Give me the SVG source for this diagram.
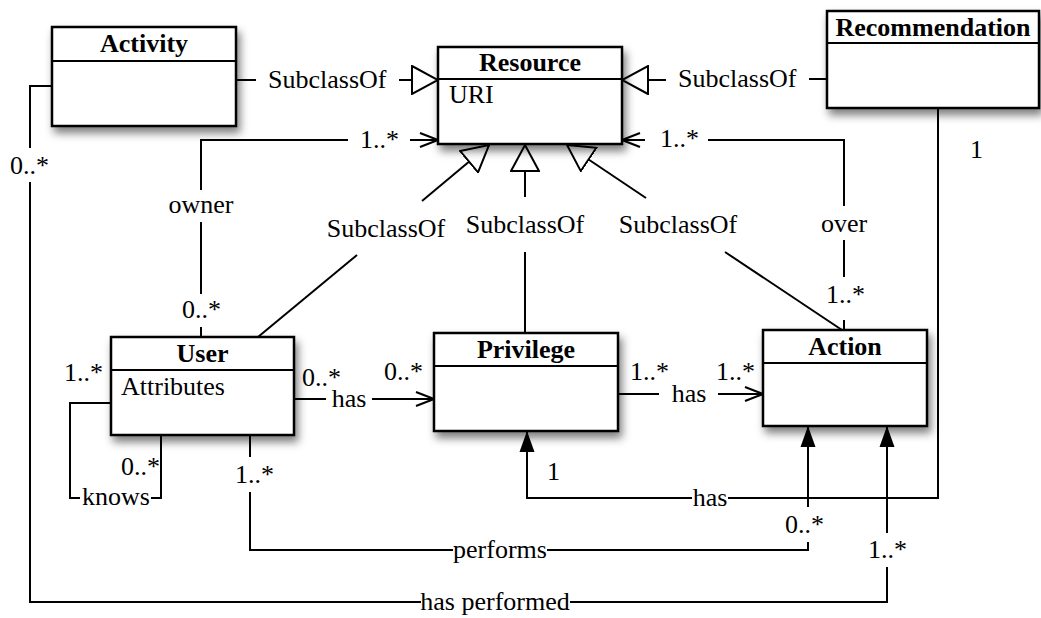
<svg xmlns="http://www.w3.org/2000/svg" width="1041" height="618" viewBox="0 0 1041 618">
  <style>
    .box { fill: #fff; stroke: #000; stroke-width: 2.5; filter: url(#shadow); }
    .div { stroke: #000; stroke-width: 2; }
    .title { font-family: "Liberation Serif", "Times New Roman", serif; font-size: 26px; font-weight: bold; text-anchor: middle; fill: #000; }
    .attr { font-family: "Liberation Serif", "Times New Roman", serif; font-size: 26px; fill: #000; }
    .lbl { font-family: "Liberation Serif", "Times New Roman", serif; font-size: 26px; fill: #000; }
    .mid { text-anchor: middle; }
    .ln { fill: none; stroke: #000; stroke-width: 2; }
  </style>
  <defs>
    <filter id="shadow" x="-20%" y="-20%" width="150%" height="160%">
      <feDropShadow dx="3" dy="6" stdDeviation="4" flood-color="#000" flood-opacity="0.5"/>
    </filter>
    <!-- hollow generalisation triangle -->
    <marker id="hollow" viewBox="0 0 28 30" refX="27" refY="15" markerWidth="28" markerHeight="30" markerUnits="userSpaceOnUse" orient="auto">
      <path d="M1,1 L27,15 L1,29 Z" fill="#fff" stroke="#000" stroke-width="2"/>
    </marker>
    <!-- open navigation arrow -->
    <marker id="open" viewBox="0 0 20 16" refX="19" refY="8" markerWidth="20" markerHeight="16" markerUnits="userSpaceOnUse" orient="auto">
      <path d="M1,1 L19,8 L1,15" fill="none" stroke="#000" stroke-width="2"/>
    </marker>
    <!-- filled arrow -->
    <marker id="filled" viewBox="0 0 21 16" refX="21" refY="8" markerWidth="21" markerHeight="16" markerUnits="userSpaceOnUse" orient="auto">
      <path d="M0,0.5 L21,8 L0,15.5 Z" fill="#000"/>
    </marker>
  </defs>

  <rect width="1041" height="618" fill="#fff"/>

  <!-- connectors -->
  <g id="connectors">
    <!-- Activity subclass of Resource -->
    <path class="ln" d="M236,80 H256"/>
    <path class="ln" d="M399,80 H438" marker-end="url(#hollow)"/>
    <text class="lbl" x="268" y="88">SubclassOf</text>

    <!-- Recommendation subclass of Resource -->
    <path class="ln" d="M827,79 H809"/>
    <path class="ln" d="M666,80 H622" marker-end="url(#hollow)"/>
    <text class="lbl" x="678" y="87">SubclassOf</text>

    <!-- owner -->
    <path class="ln" d="M201,337 V327"/>
    <path class="ln" d="M201,294 V222"/>
    <path class="ln" d="M201,190 V140 H348"/>
    <path class="ln" d="M410,140 H438" marker-end="url(#open)"/>
    <text class="lbl mid" x="201" y="213">owner</text>
    <text class="lbl" x="182" y="318">0..*</text>
    <text class="lbl" x="360" y="148">1..*</text>

    <!-- over -->
    <path class="ln" d="M844,330 V320"/>
    <path class="ln" d="M844,277 V240"/>
    <path class="ln" d="M844,206 V140 H708"/>
    <path class="ln" d="M645,140 H622" marker-end="url(#open)"/>
    <text class="lbl mid" x="844" y="232">over</text>
    <text class="lbl" x="826" y="303">1..*</text>
    <text class="lbl" x="660" y="147">1..*</text>

    <!-- User subclass of Resource -->
    <path class="ln" d="M258,337 L357,255"/>
    <path class="ln" d="M422,201 L489,145" marker-end="url(#hollow)"/>
    <text class="lbl mid" x="386" y="237">SubclassOf</text>

    <!-- Privilege subclass of Resource -->
    <path class="ln" d="M525,333 V252"/>
    <path class="ln" d="M525,197 V145" marker-end="url(#hollow)"/>
    <text class="lbl mid" x="525" y="233">SubclassOf</text>

    <!-- Action subclass of Resource -->
    <path class="ln" d="M842,330 L725,252"/>
    <path class="ln" d="M646,198 L567,145" marker-end="url(#hollow)"/>
    <text class="lbl mid" x="678" y="233">SubclassOf</text>

    <!-- User has Privilege -->
    <path class="ln" d="M294,399 H326"/>
    <path class="ln" d="M372,399 H434" marker-end="url(#open)"/>
    <text class="lbl mid" x="349" y="407">has</text>
    <text class="lbl" x="302" y="386">0..*</text>
    <text class="lbl" x="384" y="380">0..*</text>

    <!-- Privilege has Action -->
    <path class="ln" d="M618,394 H659"/>
    <path class="ln" d="M718,394 H763" marker-end="url(#open)"/>
    <text class="lbl mid" x="689" y="402">has</text>
    <text class="lbl" x="630" y="380">1..*</text>
    <text class="lbl" x="716" y="380">1..*</text>

    <!-- Recommendation has Privilege -->
    <path class="ln" d="M938,108 V498 H728"/>
    <path class="ln" d="M692,498 H527 V431" marker-end="url(#filled)"/>
    <text class="lbl mid" x="710" y="506">has</text>
    <text class="lbl" x="970" y="158">1</text>
    <text class="lbl" x="547" y="480">1</text>

    <!-- knows -->
    <path class="ln" d="M111,403 H70 V498 H80"/>
    <path class="ln" d="M151,498 H161 V435"/>
    <text class="lbl" x="82" y="505">knows</text>
    <text class="lbl" x="64" y="381">1..*</text>
    <text class="lbl" x="121" y="475">0..*</text>

    <!-- performs -->
    <path class="ln" d="M250,435 V457"/>
    <path class="ln" d="M250,492 V550 H453"/>
    <path class="ln" d="M547,550 H808 V542"/>
    <path class="ln" d="M808,507 V426" marker-end="url(#filled)"/>
    <text class="lbl mid" x="500" y="558">performs</text>
    <text class="lbl" x="235" y="483">1..*</text>
    <text class="lbl" x="785" y="533">0..*</text>

    <!-- has performed -->
    <path class="ln" d="M52,86 H30 V148"/>
    <path class="ln" d="M30,182 V602 H421"/>
    <path class="ln" d="M570,602 H887 V567"/>
    <path class="ln" d="M887,533 V426" marker-end="url(#filled)"/>
    <text class="lbl mid" x="495" y="610">has performed</text>
    <text class="lbl" x="10" y="174">0..*</text>
    <text class="lbl" x="868" y="558">1..*</text>
  </g>

  <!-- classes -->
  <g id="activity">
    <rect class="box" x="52" y="27" width="184" height="99"/>
    <line class="div" x1="52" y1="61" x2="236" y2="61"/>
    <text class="title" x="144" y="52">Activity</text>
  </g>

  <g id="resource">
    <rect class="box" x="438" y="47" width="184" height="97"/>
    <line class="div" x1="438" y1="79" x2="622" y2="79"/>
    <text class="title" x="530" y="71">Resource</text>
    <text class="attr" x="449" y="103">URI</text>
  </g>

  <g id="recommendation">
    <rect class="box" x="827" y="11" width="212" height="97"/>
    <line class="div" x1="827" y1="43" x2="1039" y2="43"/>
    <text class="title" x="933" y="36">Recommendation</text>
  </g>

  <g id="user">
    <rect class="box" x="111" y="337" width="183" height="98"/>
    <line class="div" x1="111" y1="370" x2="294" y2="370"/>
    <text class="title" x="202.5" y="362">User</text>
    <text class="attr" x="121" y="395">Attributes</text>
  </g>

  <g id="privilege">
    <rect class="box" x="434" y="333" width="184" height="98"/>
    <line class="div" x1="434" y1="366" x2="618" y2="366"/>
    <text class="title" x="526" y="358">Privilege</text>
  </g>

  <g id="action">
    <rect class="box" x="763" y="330" width="164" height="96"/>
    <line class="div" x1="763" y1="363" x2="927" y2="363"/>
    <text class="title" x="845" y="355">Action</text>
  </g>
</svg>
